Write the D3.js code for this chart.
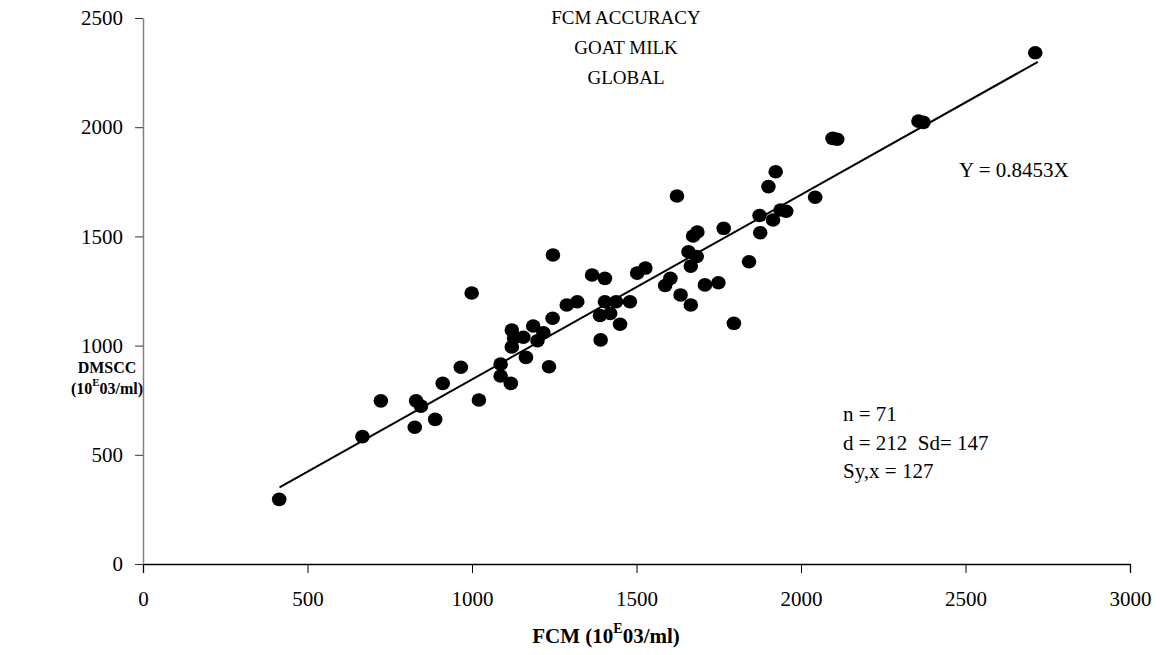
<!DOCTYPE html>
<html>
<head>
<meta charset="utf-8">
<script src="https://cdn.jsdelivr.net/npm/d3@7"></script>
<style>
  body { margin: 0; background: #fff; }
  text { font-family: "Liberation Serif", "Times New Roman", serif; }
</style>
</head>
<body>
<div class="chart"></div>
<script>
// FCM vs DMSCC, goat milk (10^3 cells/ml)
const fcm = [414, 667, 723, 830, 845, 826, 888, 911, 966, 999, 1021, 1087, 1087, 1118, 1121, 1164,
  1121, 1156, 1186, 1217, 1199, 1234, 1245, 1246, 1288, 1320, 1365, 1404, 1391, 1389, 1404, 1420,
  1438, 1450, 1480, 1502, 1527, 1587, 1603, 1634, 1623, 1665, 1672, 1685, 1658, 1683, 1665, 1708,
  1749, 1765, 1796, 1842, 1874, 1876, 1915, 1938, 1901, 1923, 2043, 2096, 2357, 2712,
  2110, 2372, 1955, 1128];
const dmscc = [296, 583, 747, 747, 723, 626, 662, 827, 901, 1241, 751, 915, 861, 827, 994, 946,
  1071, 1038, 1090, 1059, 1022, 903, 1125, 1415, 1186, 1201, 1323, 1308, 1026, 1138, 1201, 1147,
  1201, 1098, 1201, 1332, 1355, 1275, 1308, 1232, 1685, 1186, 1502, 1520, 1430, 1408, 1364, 1278,
  1288, 1537, 1102, 1384, 1596, 1517, 1575, 1621, 1728, 1796, 1679, 1949, 2028, 2341,
  1945, 2022, 1615, 1035];
const slope = 0.8453;
const fitRange = [415, 2720];
const xTicks = [0, 500, 1000, 1500, 2000, 2500, 3000];
const yTicks = [0, 500, 1000, 1500, 2000, 2500];
const titleLines = ['FCM ACCURACY', 'GOAT MILK', 'GLOBAL'];
const statLines = ['n = 71', 'd = 212\u00a0\u00a0Sd= 147', 'Sy,x = 127'];

const width = 1160, height = 655;
const svg = d3.select('.chart').append('svg')
    .attr('width', width)
    .attr('height', height);

const x = d3.scaleLinear().domain([0, 3000]).range([143, 1130]);
const y = d3.scaleLinear().domain([0, 2500]).range([564, 18]);

// axes
const xAxis = svg.append('g')
    .attr('transform', `translate(0, ${y(0)})`)
    .call(d3.axisBottom(x).tickValues(xTicks).tickSize(9).tickPadding(18).tickFormat(d3.format('d')));
xAxis.select('.domain').attr('stroke', '#000').attr('stroke-width', 1.3);
xAxis.selectAll('.tick line').attr('stroke', '#000');
xAxis.selectAll('text').attr('font-size', 21).attr('fill', '#000')
    .attr('font-family', '"Liberation Serif", serif');

const yAxis = svg.append('g')
    .attr('transform', `translate(${x(0)}, 0)`)
    .call(d3.axisLeft(y).tickValues(yTicks).tickSize(8).tickPadding(12).tickSizeOuter(0).tickFormat(d3.format('d')));
yAxis.select('.domain').attr('stroke', '#808080').attr('stroke-width', 1.5);
yAxis.selectAll('.tick line').attr('stroke', '#333');
yAxis.selectAll('text').attr('font-size', 21).attr('fill', '#000')
    .attr('font-family', '"Liberation Serif", serif');

// points
const pts = fcm.map((v, i) => ({ fcm: v, dmscc: dmscc[i] }));
svg.append('g').selectAll('ellipse')
    .data(pts)
  .enter().append('ellipse')
    .attr('cx', d => x(d.fcm))
    .attr('cy', d => y(d.dmscc))
    .attr('rx', 7.3)
    .attr('ry', 6.8)
    .attr('fill', '#000');

// fitted line through origin
const line = d3.line().x(d => x(d)).y(d => y(slope * d));
svg.append('path')
    .attr('d', line(fitRange))
    .attr('fill', 'none')
    .attr('stroke', '#000')
    .attr('stroke-width', 2);

// title
svg.append('g').selectAll('text')
    .data(titleLines)
  .enter().append('text')
    .attr('x', 626)
    .attr('y', (d, i) => 24 + i * 30)
    .attr('text-anchor', 'middle')
    .attr('font-size', 19)
    .text(d => d);

svg.append('text')
    .attr('x', 959).attr('y', 177)
    .attr('font-size', 21)
    .text('Y = 0.8453X');

svg.append('g').selectAll('text')
    .data(statLines)
  .enter().append('text')
    .attr('x', 843)
    .attr('y', (d, i) => 421 + i * 28.5)
    .attr('font-size', 21)
    .text(d => d);

// axis titles with superscript E
function unitLabel(sel, prefix, small) {
    sel.append('tspan').text(prefix + '10');
    sel.append('tspan').attr('font-size', small).attr('dy', -small * 0.7).text('E');
    sel.append('tspan').attr('dy', small * 0.7).text('03/ml)');
}

svg.append('text')
    .attr('x', 107).attr('y', 373)
    .attr('text-anchor', 'middle')
    .attr('font-size', 16).attr('font-weight', 'bold')
    .text('DMSCC');
const yl = svg.append('text')
    .attr('x', 107).attr('y', 394)
    .attr('text-anchor', 'middle')
    .attr('font-size', 16).attr('font-weight', 'bold');
unitLabel(yl, '(', 11);

const xl = svg.append('text')
    .attr('x', 606).attr('y', 643)
    .attr('text-anchor', 'middle')
    .attr('font-size', 21).attr('font-weight', 'bold');
unitLabel(xl, 'FCM (', 14);
</script>
</body>
</html>
